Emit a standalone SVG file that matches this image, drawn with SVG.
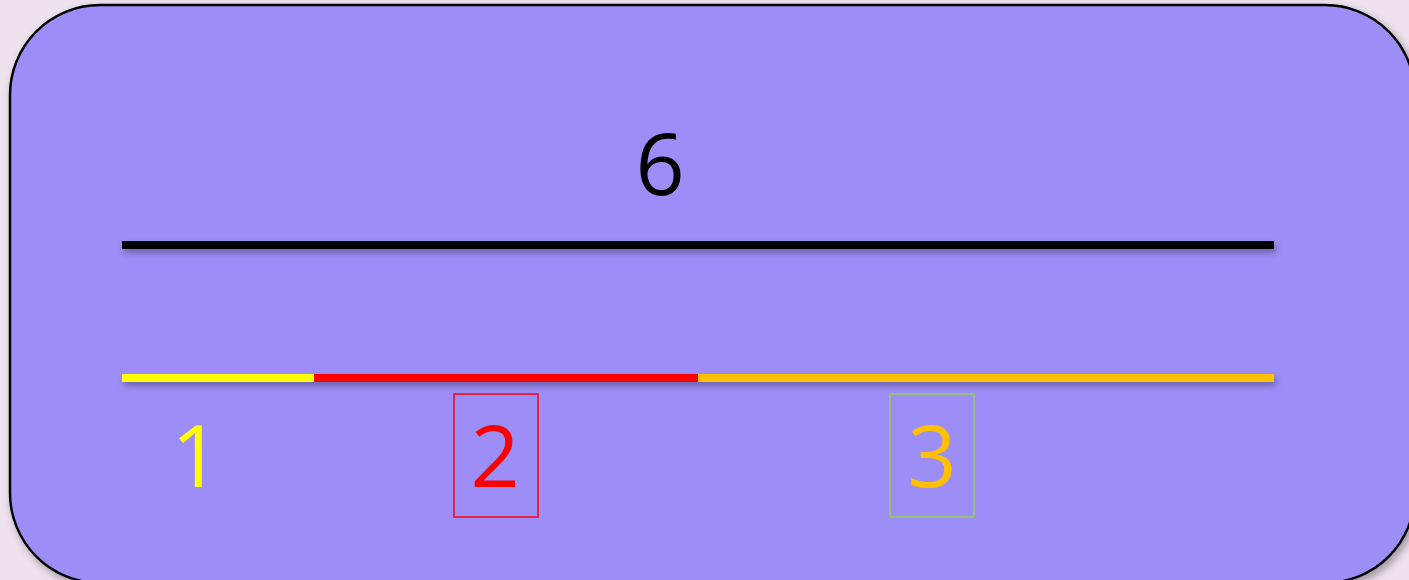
<svg xmlns="http://www.w3.org/2000/svg" width="1409" height="580" viewBox="0 0 1409 580">
<defs>
<style>
.num{font-family:"Open Sans","DejaVu Sans",sans-serif;font-size:86px;text-anchor:middle}
</style>
<filter id="sh" filterUnits="userSpaceOnUse" x="100" y="220" width="1200" height="190">
<feDropShadow dx="2" dy="4" stdDeviation="3" flood-color="#000" flood-opacity="0.3"/>
</filter>
<filter id="sh2" x="-5%" y="-5%" width="115%" height="115%">
<feDropShadow dx="3" dy="4" stdDeviation="4" flood-color="#000" flood-opacity="0.35"/>
</filter>
</defs>
<rect width="1409" height="580" fill="#EEE2EF"/>
<g id="panel">
<rect x="10" y="5" width="1405" height="578" rx="90" ry="90" fill="#9D8DF6" stroke="#000" stroke-width="2.5" filter="url(#sh2)"/>
</g>
<g id="connectors" filter="url(#sh)">
<rect x="122" y="241" width="1152" height="8" fill="#000"/>
<rect x="122" y="374" width="192" height="8" fill="#FFFF00"/>
<rect x="314" y="374" width="384" height="8" fill="#FF0000"/>
<rect x="698" y="374" width="576" height="8" fill="#FFC000"/>
</g>
<g id="total"><text class="num" x="660" y="195" fill="#000">6</text></g>
<g id="part1"><text class="num" x="196" y="487" fill="#FFFF00">1</text></g>
<g id="part2"><rect x="454" y="394" width="84" height="123" fill="none" stroke="#FF0000" stroke-width="1.5"/><text class="num" x="495" y="487" fill="#FF0000">2</text></g>
<g id="part3"><rect x="890" y="394" width="84" height="123" fill="none" stroke="#92D050" stroke-width="1.5"/><text class="num" x="932" y="487" fill="#FFC000">3</text></g>
</svg>
